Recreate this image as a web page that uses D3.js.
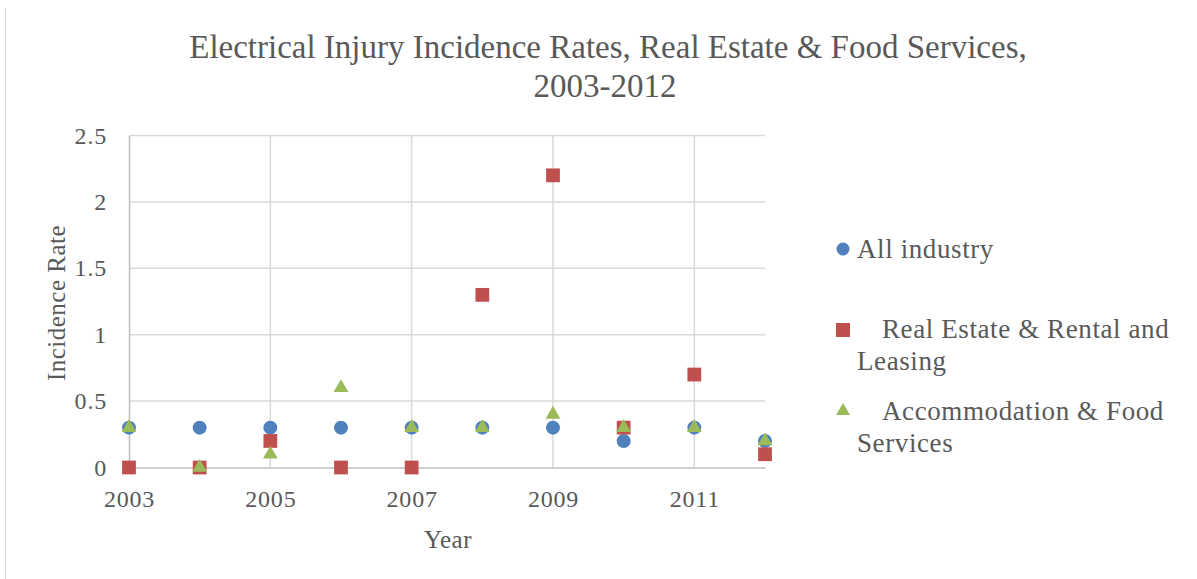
<!DOCTYPE html>
<html>
<head>
<meta charset="utf-8">
<script src="https://cdn.jsdelivr.net/npm/d3@7"></script>
<style>
  body { margin: 0; background: #fff; }
  svg text { font-family: "Liberation Serif", serif; fill: #595959; }
</style>
</head>
<body>
<svg id="chart" width="1197" height="579"></svg>
<script>
// Data
const years = [2003, 2004, 2005, 2006, 2007, 2008, 2009, 2010, 2011, 2012];
const allIndustry = [0.3, 0.3, 0.3, 0.3, 0.3, 0.3, 0.3, 0.2, 0.3, 0.2];
const realEstate = [0, 0, 0.2, 0, 0, 1.3, 2.2, 0.3, 0.7, 0.1];
const accommodation = [0.3, 0, 0.1, 0.6, 0.3, 0.3, 0.4, 0.3, 0.3, 0.2];
const xTicks = [2003, 2005, 2007, 2009, 2011];
const yTicks = [0, 0.5, 1, 1.5, 2, 2.5];

const series = [
  { name: 'All industry', values: allIndustry, color: '#4F81BD', shape: d3.symbolCircle, size: 154, legendSize: 133 },
  { name: 'Real Estate & Rental and Leasing', values: realEstate, color: '#C0504D', shape: d3.symbolSquare, size: 190, legendSize: 196 },
  { name: 'Accommodation & Food Services', values: accommodation, color: '#9BBB59', shape: d3.symbolTriangle, size: 95, legendSize: 85 },
];

const svg = d3.select('#chart');

// faint frame edge on the left
svg.append('line')
  .attr('x1', 5.5).attr('x2', 5.5)
  .attr('y1', 8).attr('y2', 579)
  .attr('stroke', '#d9d9d9');

const x = d3.scaleLinear().domain([2003, 2012]).range([129, 765]);
const y = d3.scaleLinear().domain([0, 2.5]).range([467.5, 135.5]);

// gridlines
svg.append('g')
  .selectAll('line')
  .data(yTicks.slice(1))
  .join('line')
  .attr('x1', x(2003)).attr('x2', x(2012))
  .attr('y1', (d) => y(d)).attr('y2', (d) => y(d))
  .attr('stroke', '#d9d9d9').attr('stroke-width', 1.5);

svg.append('g')
  .selectAll('line')
  .data(xTicks.slice(1))
  .join('line')
  .attr('x1', (d) => x(d)).attr('x2', (d) => x(d))
  .attr('y1', y(2.5)).attr('y2', y(0))
  .attr('stroke', '#d9d9d9').attr('stroke-width', 1.5);

// axes
const xAxis = svg.append('g')
  .attr('transform', `translate(0,${y(0)})`)
  .call(d3.axisBottom(x).tickValues(xTicks).tickFormat(d3.format('d')).tickSize(0).tickPadding(22));
const yAxis = svg.append('g')
  .attr('transform', `translate(${x(2003)},0)`)
  .call(d3.axisLeft(y).tickValues(yTicks).tickFormat((d) => String(d)).tickSize(0).tickPadding(22));

[xAxis, yAxis].forEach((g) => {
  g.select('.domain').attr('stroke', '#bfbfbf').attr('stroke-width', 1.5);
  g.selectAll('text')
    .attr('font-size', 24)
    .attr('letter-spacing', 0.8)
    .attr('font-family', '"Liberation Serif", serif')
    .attr('fill', '#595959');
});

// markers, later series drawn on top
series.forEach((s) => {
  svg.append('g')
    .selectAll('path')
    .data(s.values)
    .join('path')
    .attr('d', d3.symbol().type(s.shape).size(s.size))
    .attr('transform', (d, i) => `translate(${x(years[i])},${y(d)})`)
    .attr('fill', s.color);
});

// title
svg.append('text')
  .attr('x', 608).attr('y', 58)
  .attr('text-anchor', 'middle')
  .attr('font-size', 33)
  .text('Electrical  Injury Incidence Rates, Real Estate & Food Services,');
svg.append('text')
  .attr('x', 605).attr('y', 97)
  .attr('text-anchor', 'middle')
  .attr('font-size', 33)
  .text('2003-2012');

// axis titles
svg.append('text')
  .attr('x', 448).attr('y', 548)
  .attr('text-anchor', 'middle')
  .attr('font-size', 25)
  .attr('letter-spacing', 0.5)
  .text('Year');
svg.append('text')
  .attr('transform', 'translate(65,303) rotate(-90)')
  .attr('text-anchor', 'middle')
  .attr('font-size', 25)
  .attr('letter-spacing', 0.5)
  .text('Incidence Rate');

// legend
const legendRows = [
  { lines: ['All industry'], y: 249, base: 258, indent: 0 },
  { lines: ['Real Estate & Rental and', 'Leasing'], y: 330, base: 338, indent: 25 },
  { lines: ['Accommodation & Food', 'Services'], y: 411, base: 420, indent: 25 },
];
legendRows.forEach((row, i) => {
  const s = series[i];
  svg.append('path')
    .attr('d', d3.symbol().type(s.shape).size(s.legendSize))
    .attr('transform', `translate(843,${row.y})`)
    .attr('fill', s.color);
  row.lines.forEach((line, j) => {
    svg.append('text')
      .attr('x', 857 + (j === 0 ? row.indent : 0))
      .attr('y', row.base + j * 32)
      .attr('font-size', 27)
      .attr('letter-spacing', 0.6)
      .text(line);
  });
});
</script>
</body>
</html>
